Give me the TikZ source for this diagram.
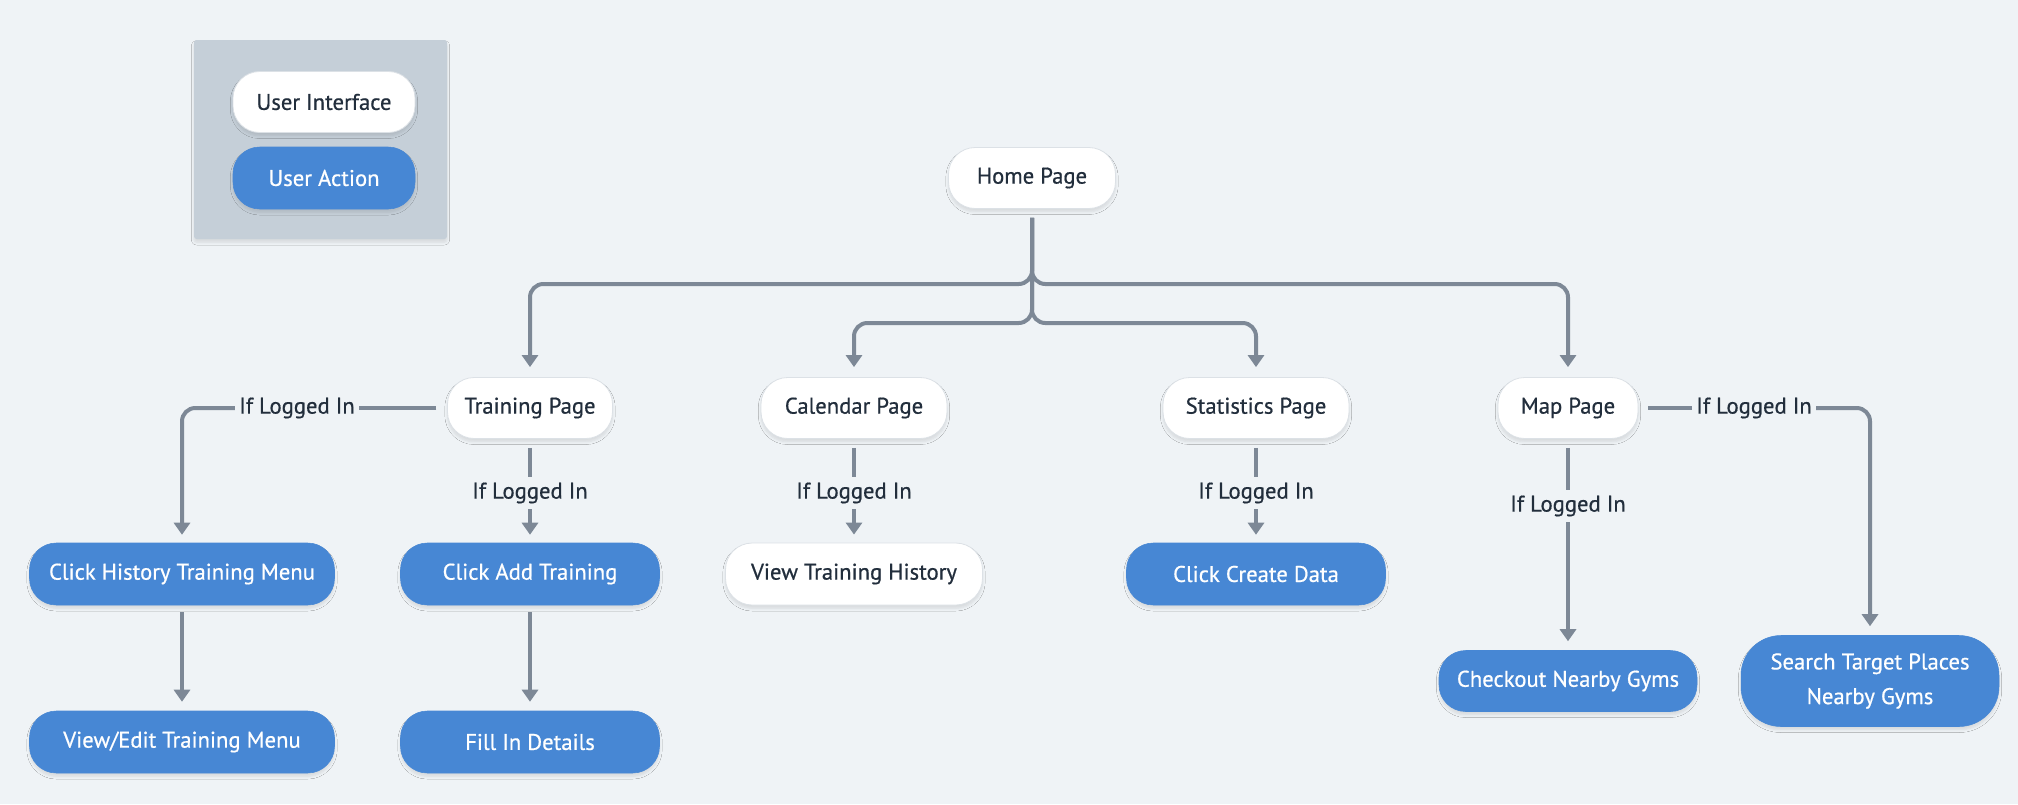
\documentclass[tikz,border=0pt]{standalone}
\usepackage{fontspec}
\setmainfont{PT Sans}[FakeBold=0.6]
\usetikzlibrary{arrows.meta,shadows.blur}
\definecolor{bgc}{HTML}{EFF3F6}
\definecolor{legc}{HTML}{C5CFD8}
\definecolor{bluec}{HTML}{4787D4}
\definecolor{linec}{HTML}{7D8896}
\definecolor{txtc}{HTML}{222E3C}
\definecolor{bordc}{HTML}{DCE1E6}
\tikzset{
  softshadow/.style={blur shadow={shadow xshift=0pt, shadow yshift=-2.5pt, shadow blur radius=2pt, shadow blur steps=5, shadow opacity=10}},
  base/.style={rounded corners=20pt, align=center, font=\fontsize{17}{24}\selectfont,
    minimum height=45.75pt, inner sep=2pt, softshadow},
  uinode/.style={base, fill=white, draw=bordc, line width=0.6pt, text=txtc},
  actnode/.style={base, fill=bluec, draw=bluec, text=white, minimum height=46.5pt},
  lbl/.style={font=\fontsize{17}{20}\selectfont, text=txtc, inner xsep=3pt, inner ysep=4pt},
  conn/.style={draw=linec, line width=3pt, rounded corners=10pt},
  arr/.style={conn, -{Triangle[width=12pt,length=9pt]}}
}
\begin{document}
\begin{tikzpicture}[x=0.75pt,y=-0.75pt]
\fill[bgc] (0,0) rectangle (2018,804);
\useasboundingbox (0,0) rectangle (2018,804);
% legend
\node[fill=legc, rounded corners=2pt, minimum width=189.75pt, minimum height=149.25pt, inner sep=0pt, softshadow] (legend) at (320.5,139.5) {};
\node[uinode, minimum width=136.5pt] (ui) at (324,102) {User Interface};
\node[actnode, minimum width=136.5pt] (ua) at (324,178) {User Action};
% pages
\node[uinode, minimum width=125.25pt] (home) at (1032,178) {Home Page};
\node[uinode, minimum width=123.75pt] (train) at (530,408) {Training Page};
\node[uinode, minimum width=139.5pt] (cal) at (854,408) {Calendar Page};
\node[uinode, minimum width=139.5pt] (stat) at (1256,408) {Statistics Page};
\node[uinode, minimum width=105pt] (map) at (1568,408) {Map Page};
% actions
\node[actnode, minimum width=228.75pt] (hist) at (182,574) {Click History Training Menu};
\node[actnode, minimum width=194.25pt] (add) at (530,574) {Click Add Training};
\node[uinode, minimum width=192.75pt, minimum height=46.5pt] (vth) at (854,574) {View Training History};
\node[actnode, minimum width=194.25pt] (create) at (1256,574) {Click Create Data};
\node[actnode, minimum width=228.75pt] (edit) at (182,742) {View/Edit Training Menu};
\node[actnode, minimum width=194.25pt] (fill) at (530,742) {Fill In Details};
\node[actnode, minimum width=193.5pt, minimum height=45.75pt] (gyms) at (1568,681) {Checkout Nearby Gyms};
\node[actnode, minimum width=193.5pt, minimum height=68.25pt, rounded corners=30pt, font=\fontsize{17}{26}\selectfont] (search) at (1870,681) {Search Target Places\\Nearby Gyms};
% labels
\node[lbl] (l1) at (297,408) {If Logged In};
\node[lbl] (l2) at (530,493) {If Logged In};
\node[lbl] (l3) at (854,493) {If Logged In};
\node[lbl] (l4) at (1256,493) {If Logged In};
\node[lbl] (l5) at (1568,506) {If Logged In};
\node[lbl] (l6) at (1754,408) {If Logged In};
% connectors from home
\draw[arr] ([yshift=-6.75pt]home.south) -- (home.south |- 0,284) -- (train.north |- 0,284) -- ([yshift=7.5pt]train.north);
\draw[arr] ([yshift=-6.75pt]home.south) -- (home.south |- 0,284) -- (map.north |- 0,284) -- ([yshift=7.5pt]map.north);
\draw[arr] ([yshift=-6.75pt]home.south) -- (home.south |- 0,323) -- (cal.north |- 0,323) -- ([yshift=7.5pt]cal.north);
\draw[arr] ([yshift=-6.75pt]home.south) -- (home.south |- 0,323) -- (stat.north |- 0,323) -- ([yshift=7.5pt]stat.north);
% training
\draw[conn] ([xshift=-8pt]train.west) -- (l1.east);
\draw[arr] (l1.west) -- (hist.north |- l1.west) -- ([yshift=6pt]hist.north);
\draw[conn] ([yshift=-6.75pt]train.south) -- (l2.north);
\draw[arr] (l2.south) -- ([yshift=6pt]add.north);
\draw[arr] ([yshift=-5.25pt]hist.south) -- ([yshift=6.75pt]edit.north);
\draw[arr] ([yshift=-5.25pt]add.south) -- ([yshift=6.75pt]fill.north);
% calendar, statistics
\draw[conn] ([yshift=-6.75pt]cal.south) -- (l3.north);
\draw[arr] (l3.south) -- ([yshift=6pt]vth.north);
\draw[conn] ([yshift=-6.75pt]stat.south) -- (l4.north);
\draw[arr] (l4.south) -- ([yshift=6pt]create.north);
% map
\draw[conn] ([yshift=-6.75pt]map.south) -- (l5.north);
\draw[arr] (l5.south) -- ([yshift=6.75pt]gyms.north);
\draw[conn] ([xshift=7.5pt]map.east) -- (l6.west);
\draw[arr] (l6.east) -- (search.north |- l6.east) -- ([yshift=6.75pt]search.north);
\end{tikzpicture}
\end{document}
